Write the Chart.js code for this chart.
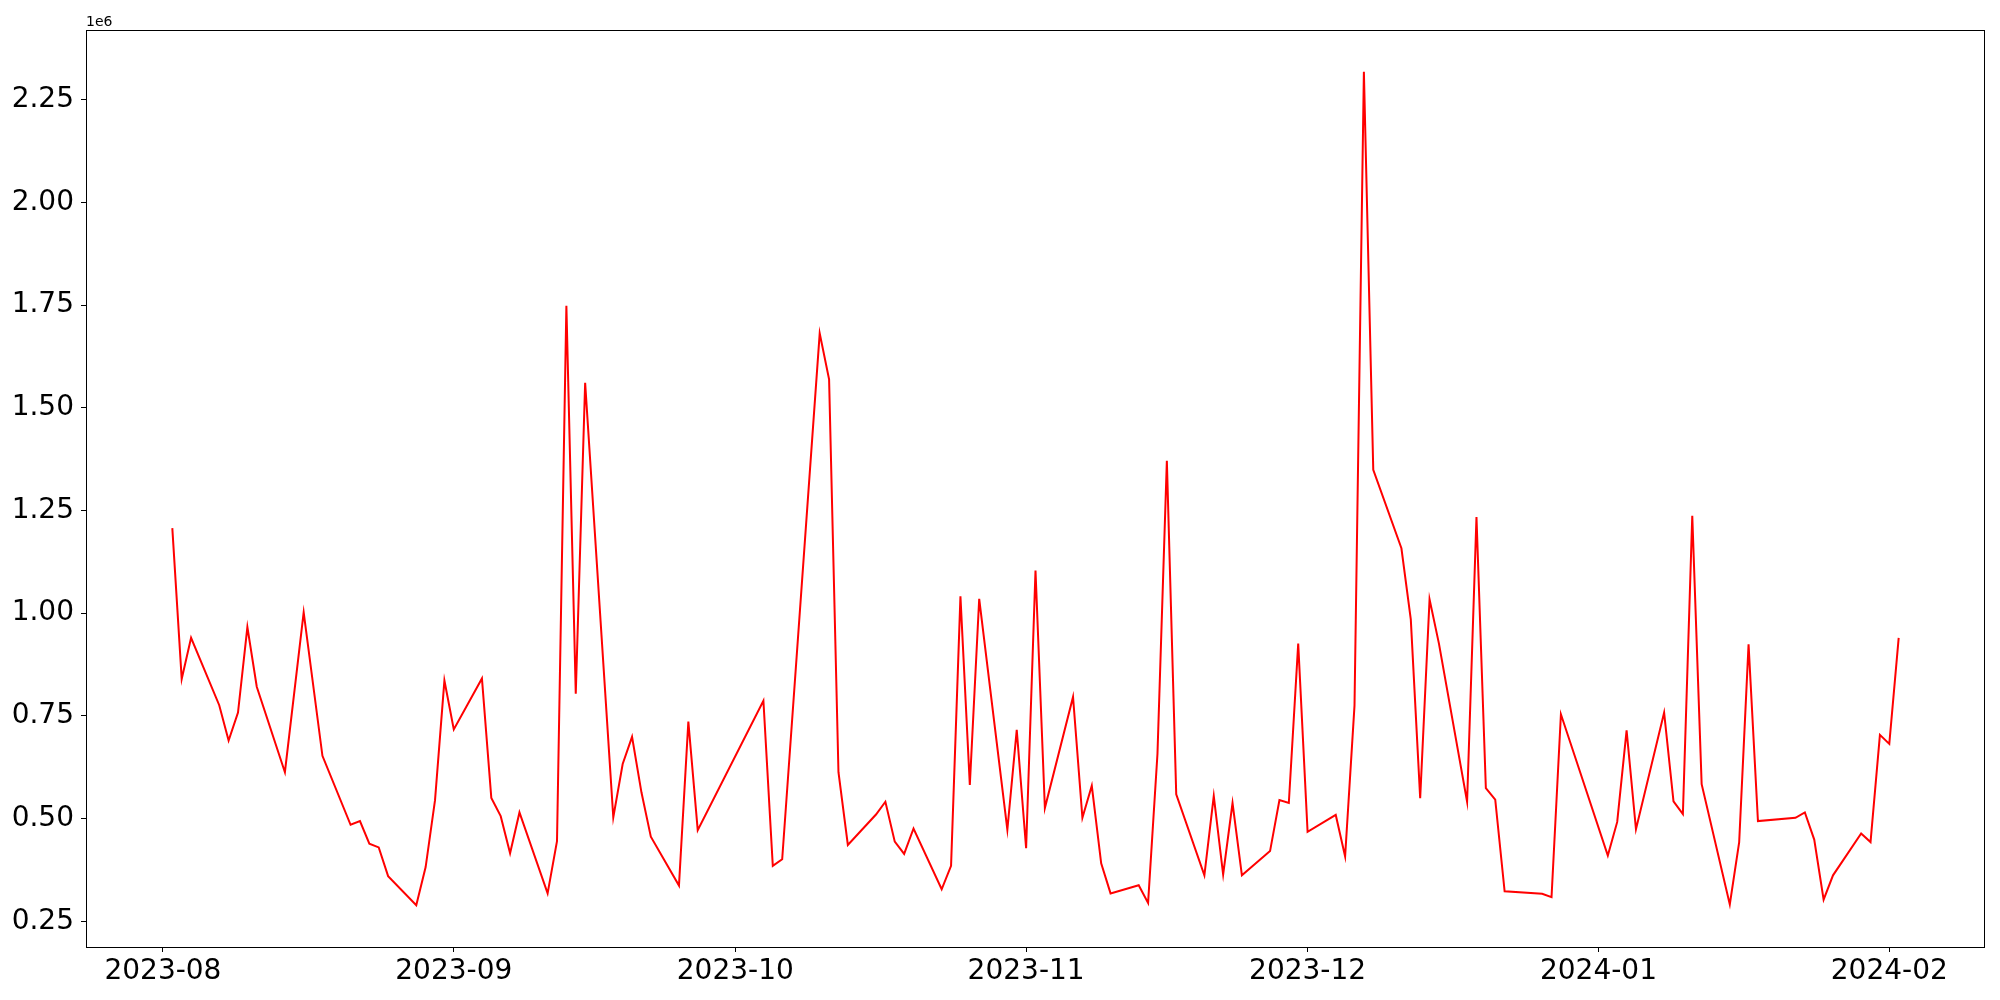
<!DOCTYPE html>
<html>
<head>
<meta charset="utf-8">
<script src="https://cdn.jsdelivr.net/npm/chart.js@4/dist/chart.umd.min.js"></script>
<style>
  html, body { margin: 0; padding: 0; background: #fff; }
  #wrap { width: 2000px; height: 1000px; }
</style>
</head>
<body>
<div id="wrap"><canvas id="lineChart" width="2000" height="1000"></canvas></div>
<script>
// daily series
const dates = [
  "2023-08-02", "2023-08-03", "2023-08-04", "2023-08-07", "2023-08-08", "2023-08-09", "2023-08-10", "2023-08-11",
  "2023-08-14", "2023-08-16", "2023-08-18", "2023-08-21", "2023-08-22", "2023-08-23", "2023-08-24", "2023-08-25",
  "2023-08-28", "2023-08-29", "2023-08-30", "2023-08-31",
  "2023-09-01", "2023-09-04", "2023-09-05", "2023-09-06", "2023-09-07", "2023-09-08", "2023-09-11", "2023-09-12",
  "2023-09-13", "2023-09-14", "2023-09-15", "2023-09-18", "2023-09-19", "2023-09-20", "2023-09-21", "2023-09-22",
  "2023-09-25", "2023-09-26", "2023-09-27",
  "2023-10-04", "2023-10-05", "2023-10-06", "2023-10-10", "2023-10-11", "2023-10-12", "2023-10-13", "2023-10-16",
  "2023-10-17", "2023-10-18", "2023-10-19", "2023-10-20", "2023-10-23", "2023-10-24", "2023-10-25", "2023-10-26",
  "2023-10-27", "2023-10-30", "2023-10-31",
  "2023-11-01", "2023-11-02", "2023-11-03", "2023-11-06", "2023-11-07", "2023-11-08", "2023-11-09", "2023-11-10",
  "2023-11-13", "2023-11-14", "2023-11-15", "2023-11-16", "2023-11-17", "2023-11-20", "2023-11-21", "2023-11-22",
  "2023-11-23", "2023-11-24", "2023-11-27", "2023-11-28", "2023-11-29", "2023-11-30",
  "2023-12-01", "2023-12-04", "2023-12-05", "2023-12-06", "2023-12-07", "2023-12-08", "2023-12-11", "2023-12-12",
  "2023-12-13", "2023-12-14", "2023-12-15", "2023-12-18", "2023-12-19", "2023-12-20", "2023-12-21", "2023-12-22",
  "2023-12-26", "2023-12-27", "2023-12-28",
  "2024-01-02", "2024-01-03", "2024-01-04", "2024-01-05", "2024-01-08", "2024-01-09", "2024-01-10", "2024-01-11",
  "2024-01-12", "2024-01-15", "2024-01-16", "2024-01-17", "2024-01-18", "2024-01-22", "2024-01-23", "2024-01-24",
  "2024-01-25", "2024-01-26", "2024-01-29", "2024-01-30", "2024-01-31", "2024-02-01", "2024-02-02"
];

const values = [
  1207000, 840000, 940000, 776000, 690000, 758000, 966000, 821000,
  613000, 1002000, 653000, 485000, 494000, 439000, 430000, 360000,
  289000, 382000, 545000, 836000,
  717000, 841000, 550000, 506000, 416000, 515000, 318000, 445000,
  1748000, 804000, 1561000, 503000, 633000, 699000, 564000, 456000,
  337000, 736000, 472000,
  787000, 385000, 401000, 1681000, 1569000, 613000, 436000, 510000,
  541000, 444000, 414000, 476000, 328000, 385000, 1041000, 582000,
  1035000, 473000, 716000,
  428000, 1104000, 526000, 796000, 502000, 580000, 391000, 318000,
  338000, 295000, 658000, 1371000, 559000, 362000, 555000, 364000,
  538000, 362000, 421000, 545000, 538000, 926000,
  468000, 509000, 408000, 775000, 2318000, 1349000, 1158000, 985000,
  550000, 1034000, 926000, 541000, 1234000, 574000, 546000, 323000,
  317000, 309000, 754000,
  410000, 492000, 715000, 474000, 758000, 542000, 511000, 1237000,
  584000, 291000, 443000, 924000, 494000, 502000, 515000, 449000,
  303000, 362000, 464000, 443000, 704000, 682000, 940000
];

const xTickLabels = ["2023-08", "2023-09", "2023-10", "2023-11", "2023-12", "2024-01", "2024-02"];
const yTickValues = [250000, 500000, 750000, 1000000, 1250000, 1500000, 1750000, 2000000, 2250000];

function dayNum(s) {
  const p = s.split("-").map(Number);
  return Date.UTC(p[0], p[1] - 1, p[2] || 1) / 86400000;
}

const xs = dates.map(dayNum);
const points = xs.map((x, i) => ({ x: x, y: values[i] }));
const xTicks = xTickLabels.map(dayNum);

// matplotlib style 5% margins
const xSpan = xs[xs.length - 1] - xs[0];
const yMinV = Math.min(...values), yMaxV = Math.max(...values);
const ySpan = yMaxV - yMinV;

const FONT = "'DejaVu Sans', sans-serif";

const frame = {
  id: "frame",
  afterDraw(chart) {
    const a = chart.chartArea, c = chart.ctx;
    const l = Math.round(a.left) + 0.5, t = Math.round(a.top) + 0.5;
    const r = Math.round(a.right) - 0.5, b = Math.round(a.bottom) + 0.5;
    c.save();
    c.strokeStyle = "#000";
    c.lineWidth = 1;
    c.strokeRect(l, t, r - l, b - t);
    c.fillStyle = "#000";
    c.font = "14px " + FONT;
    c.textAlign = "left";
    c.textBaseline = "alphabetic";
    c.fillText("1e6", a.left, a.top - 4);
    c.restore();
  }
};

new Chart(document.getElementById("lineChart"), {
  type: "line",
  data: {
    datasets: [
      {
        data: points,
        borderColor: "#ff0000",
        borderWidth: 2,
        pointRadius: 0,
        tension: 0,
        fill: false,
      },
    ],
  },
  options: {
    responsive: false,
    devicePixelRatio: 1,
    animation: false,
    layout: { padding: { left: 0, top: 30, right: 15, bottom: 0 } },
    plugins: { legend: { display: false }, tooltip: { enabled: false } },
    scales: {
      x: {
        type: "linear",
        min: xs[0] - 0.05 * xSpan,
        max: xs[xs.length - 1] + 0.05 * xSpan,
        afterBuildTicks: (s) => { s.ticks = xTicks.map((v) => ({ value: v })); },
        afterFit: (s) => { s.height = 53; },
        border: { display: false },
        grid: { drawOnChartArea: false, drawTicks: true, tickLength: 5, tickColor: "#000", tickWidth: 1 },
        ticks: {
          color: "#000",
          font: { family: FONT, size: 28 },
          padding: 3,
          maxRotation: 0,
          autoSkip: false,
          callback: (v) => xTickLabels[xTicks.indexOf(v)],
        },
      },
      y: {
        min: yMinV - 0.05 * ySpan,
        max: yMaxV + 0.05 * ySpan,
        afterBuildTicks: (s) => { s.ticks = yTickValues.map((v) => ({ value: v })); },
        afterFit: (s) => { s.width = 86; },
        border: { display: false },
        grid: { drawOnChartArea: false, drawTicks: true, tickLength: 5, tickColor: "#000", tickWidth: 1 },
        ticks: {
          color: "#000",
          font: { family: FONT, size: 28 },
          padding: 7,
          autoSkip: false,
          callback: (v) => (v / 1e6).toFixed(2),
        },
      },
    },
  },
  plugins: [frame],
});
</script>
</body>
</html>
